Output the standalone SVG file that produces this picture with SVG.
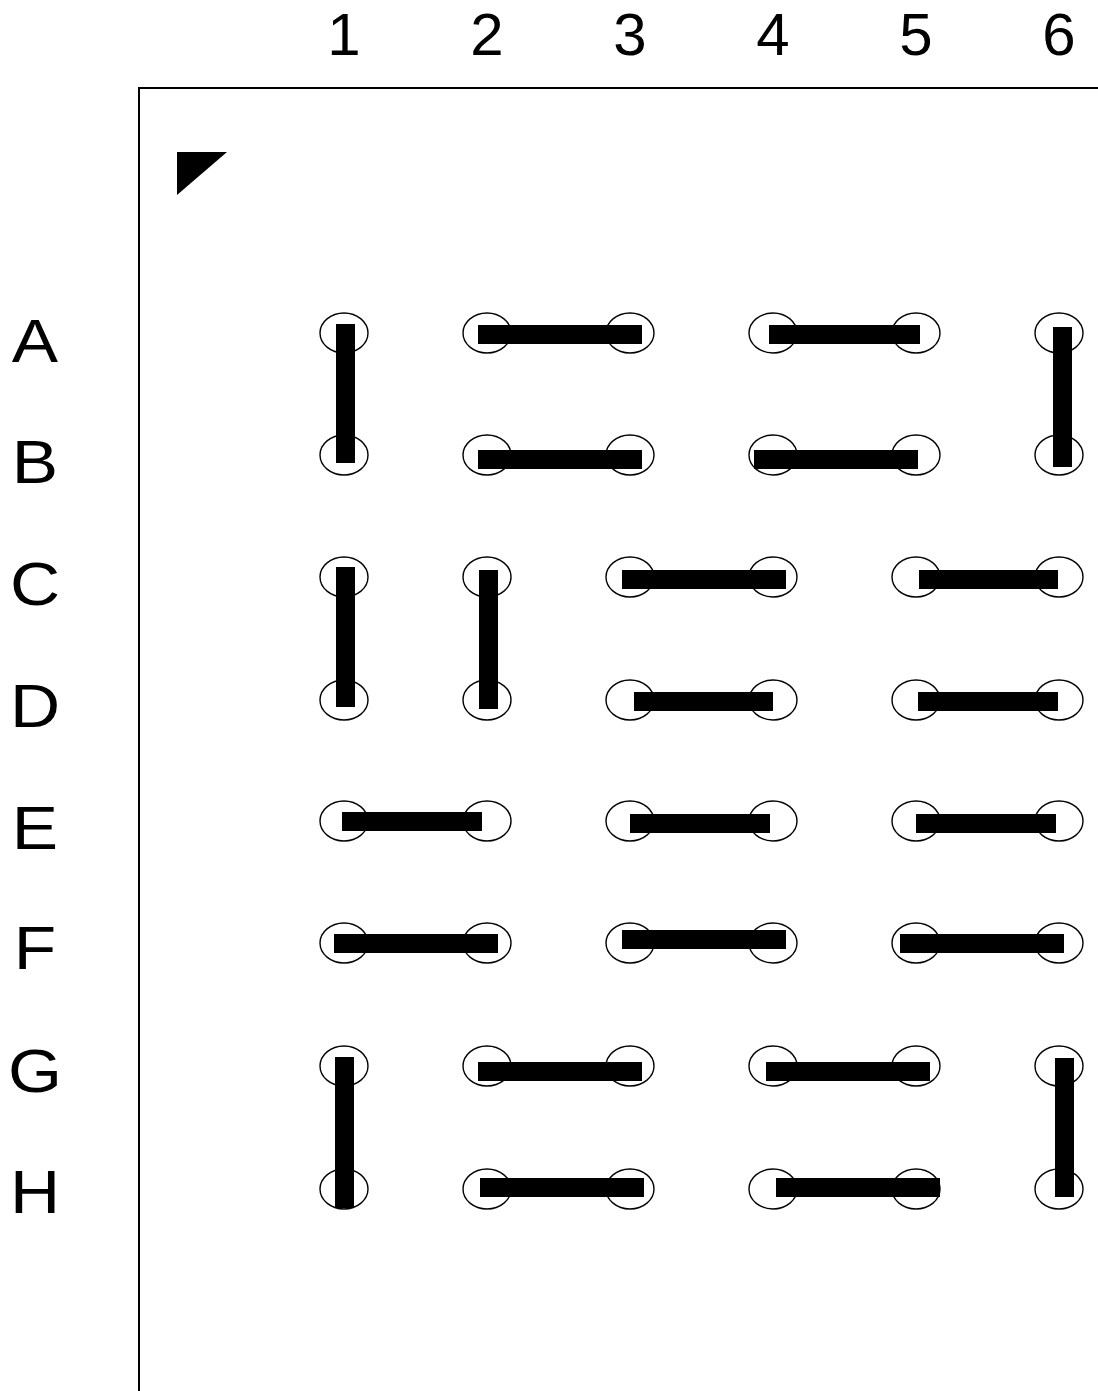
<svg xmlns="http://www.w3.org/2000/svg" width="1098" height="1391" viewBox="0 0 1098 1391">
<style>
.lbl{font-family:"Liberation Sans",Arial,sans-serif;font-size:60px;fill:#000;text-anchor:middle}
.rl{font-size:62px}
.pad{fill:none;stroke:#000;stroke-width:1.4}
.bar{fill:#000}
.frame{fill:none;stroke:#000;stroke-width:2}
</style>
<rect width="1098" height="1391" fill="#fff"/>
<g id="col-labels">
<text class="lbl" x="344" y="55">1</text>
<text class="lbl" x="487" y="55">2</text>
<text class="lbl" x="630" y="55">3</text>
<text class="lbl" x="773" y="55">4</text>
<text class="lbl" x="916" y="55">5</text>
<text class="lbl" x="1059" y="55">6</text>
</g>
<g id="row-labels" transform="translate(35,0) scale(1.12,1) translate(-35,0)">
<text class="lbl rl" x="35" y="362">A</text>
<text class="lbl rl" x="35" y="483">B</text>
<text class="lbl rl" x="35" y="605">C</text>
<text class="lbl rl" x="35" y="727">D</text>
<text class="lbl rl" x="35" y="849">E</text>
<text class="lbl rl" x="35" y="969">F</text>
<text class="lbl rl" x="35" y="1092">G</text>
<text class="lbl rl" x="35" y="1213">H</text>
</g>
<g id="frame">
<polyline class="frame" points="1098,88 139,88 139,1391"/>
<polygon points="177,152 227,152 177,195" fill="#000"/>
</g>
<g id="pads">
<g id="row-A">
<ellipse class="pad" cx="344" cy="333" rx="24" ry="20"/><ellipse class="pad" cx="487" cy="333" rx="24" ry="20"/><ellipse class="pad" cx="630" cy="333" rx="24" ry="20"/><ellipse class="pad" cx="773" cy="333" rx="24" ry="20"/><ellipse class="pad" cx="916" cy="333" rx="24" ry="20"/><ellipse class="pad" cx="1059" cy="333" rx="24" ry="20"/>
</g>
<g id="row-B">
<ellipse class="pad" cx="344" cy="455" rx="24" ry="20"/><ellipse class="pad" cx="487" cy="455" rx="24" ry="20"/><ellipse class="pad" cx="630" cy="455" rx="24" ry="20"/><ellipse class="pad" cx="773" cy="455" rx="24" ry="20"/><ellipse class="pad" cx="916" cy="455" rx="24" ry="20"/><ellipse class="pad" cx="1059" cy="455" rx="24" ry="20"/>
</g>
<g id="row-C">
<ellipse class="pad" cx="344" cy="577" rx="24" ry="20"/><ellipse class="pad" cx="487" cy="577" rx="24" ry="20"/><ellipse class="pad" cx="630" cy="577" rx="24" ry="20"/><ellipse class="pad" cx="773" cy="577" rx="24" ry="20"/><ellipse class="pad" cx="916" cy="577" rx="24" ry="20"/><ellipse class="pad" cx="1059" cy="577" rx="24" ry="20"/>
</g>
<g id="row-D">
<ellipse class="pad" cx="344" cy="700" rx="24" ry="20"/><ellipse class="pad" cx="487" cy="700" rx="24" ry="20"/><ellipse class="pad" cx="630" cy="700" rx="24" ry="20"/><ellipse class="pad" cx="773" cy="700" rx="24" ry="20"/><ellipse class="pad" cx="916" cy="700" rx="24" ry="20"/><ellipse class="pad" cx="1059" cy="700" rx="24" ry="20"/>
</g>
<g id="row-E">
<ellipse class="pad" cx="344" cy="821" rx="24" ry="20"/><ellipse class="pad" cx="487" cy="821" rx="24" ry="20"/><ellipse class="pad" cx="630" cy="821" rx="24" ry="20"/><ellipse class="pad" cx="773" cy="821" rx="24" ry="20"/><ellipse class="pad" cx="916" cy="821" rx="24" ry="20"/><ellipse class="pad" cx="1059" cy="821" rx="24" ry="20"/>
</g>
<g id="row-F">
<ellipse class="pad" cx="344" cy="943" rx="24" ry="20"/><ellipse class="pad" cx="487" cy="943" rx="24" ry="20"/><ellipse class="pad" cx="630" cy="943" rx="24" ry="20"/><ellipse class="pad" cx="773" cy="943" rx="24" ry="20"/><ellipse class="pad" cx="916" cy="943" rx="24" ry="20"/><ellipse class="pad" cx="1059" cy="943" rx="24" ry="20"/>
</g>
<g id="row-G">
<ellipse class="pad" cx="344" cy="1066" rx="24" ry="20"/><ellipse class="pad" cx="487" cy="1066" rx="24" ry="20"/><ellipse class="pad" cx="630" cy="1066" rx="24" ry="20"/><ellipse class="pad" cx="773" cy="1066" rx="24" ry="20"/><ellipse class="pad" cx="916" cy="1066" rx="24" ry="20"/><ellipse class="pad" cx="1059" cy="1066" rx="24" ry="20"/>
</g>
<g id="row-H">
<ellipse class="pad" cx="344" cy="1189" rx="24" ry="20"/><ellipse class="pad" cx="487" cy="1189" rx="24" ry="20"/><ellipse class="pad" cx="630" cy="1189" rx="24" ry="20"/><ellipse class="pad" cx="773" cy="1189" rx="24" ry="20"/><ellipse class="pad" cx="916" cy="1189" rx="24" ry="20"/><ellipse class="pad" cx="1059" cy="1189" rx="24" ry="20"/>
</g>
</g>
<g id="connectors">
<rect class="bar" x="336" y="324" width="19" height="139"/>
<rect class="bar" x="478" y="325" width="164" height="19"/>
<rect class="bar" x="478" y="450" width="164" height="19"/>
<rect class="bar" x="769" y="325" width="151" height="19"/>
<rect class="bar" x="754" y="450" width="164" height="19"/>
<rect class="bar" x="1053" y="327" width="19" height="140"/>
<rect class="bar" x="336" y="567" width="19" height="140"/>
<rect class="bar" x="479" y="570" width="19" height="139"/>
<rect class="bar" x="622" y="570" width="164" height="19"/>
<rect class="bar" x="634" y="692" width="139" height="19"/>
<rect class="bar" x="919" y="570" width="139" height="19"/>
<rect class="bar" x="918" y="692" width="140" height="19"/>
<rect class="bar" x="342" y="812" width="140" height="19"/>
<rect class="bar" x="630" y="814" width="140" height="19"/>
<rect class="bar" x="916" y="814" width="140" height="19"/>
<rect class="bar" x="334" y="934" width="164" height="19"/>
<rect class="bar" x="622" y="930" width="164" height="19"/>
<rect class="bar" x="900" y="934" width="164" height="19"/>
<rect class="bar" x="335" y="1057" width="19" height="151"/>
<rect class="bar" x="478" y="1062" width="164" height="19"/>
<rect class="bar" x="480" y="1178" width="164" height="19"/>
<rect class="bar" x="766" y="1062" width="164" height="19"/>
<rect class="bar" x="776" y="1178" width="164" height="19"/>
<rect class="bar" x="1055" y="1058" width="19" height="139"/>
</g>
</svg>
